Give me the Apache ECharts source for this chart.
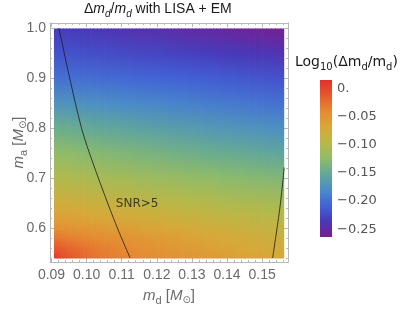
<!DOCTYPE html>
<html><head><meta charset="utf-8">
<script src="https://cdn.jsdelivr.net/npm/echarts@6/dist/echarts.min.js"></script>
<style>html,body{margin:0;padding:0;background:#fff}#c{width:407px;height:312px}</style>
</head><body><div id="c"></div>
<script>
// ---- data ----
const xNodes = [0.0907, 0.095, 0.10, 0.105, 0.11, 0.115, 0.12, 0.125, 0.13, 0.135, 0.14, 0.145, 0.15, 0.1563];
const yNodes = [0.54, 0.56, 0.58, 0.60, 0.625, 0.65, 0.70, 0.75, 0.80, 0.85, 0.90, 0.95, 1.00];
const row054 = [0.010, -0.008, -0.022, -0.030, -0.036, -0.040, -0.044, -0.048, -0.052, -0.056, -0.059, -0.062, -0.066, -0.070];
const row056 = [-0.010, -0.018, -0.027, -0.034, -0.039, -0.044, -0.048, -0.052, -0.056, -0.060, -0.063, -0.067, -0.071, -0.075];
const row058 = [-0.028, -0.032, -0.038, -0.043, -0.047, -0.051, -0.055, -0.059, -0.063, -0.067, -0.070, -0.074, -0.077, -0.081];
const row060 = [-0.046, -0.048, -0.052, -0.055, -0.058, -0.062, -0.065, -0.069, -0.072, -0.075, -0.079, -0.082, -0.085, -0.088];
const row0625 = [-0.062, -0.064, -0.067, -0.070, -0.073, -0.076, -0.079, -0.082, -0.085, -0.088, -0.091, -0.093, -0.096, -0.098];
const row065 = [-0.075, -0.077, -0.080, -0.083, -0.086, -0.089, -0.091, -0.094, -0.097, -0.099, -0.102, -0.104, -0.106, -0.108];
const row070 = [-0.100, -0.102, -0.105, -0.108, -0.110, -0.113, -0.116, -0.118, -0.121, -0.123, -0.126, -0.128, -0.130, -0.132];
const row075 = [-0.123, -0.125, -0.128, -0.131, -0.133, -0.136, -0.138, -0.141, -0.143, -0.146, -0.148, -0.150, -0.152, -0.155];
const row080 = [-0.145, -0.147, -0.150, -0.153, -0.155, -0.158, -0.160, -0.163, -0.165, -0.168, -0.170, -0.172, -0.175, -0.177];
const row085 = [-0.172, -0.174, -0.176, -0.178, -0.180, -0.182, -0.184, -0.186, -0.188, -0.190, -0.192, -0.194, -0.196, -0.198];
const row090 = [-0.198, -0.199, -0.200, -0.202, -0.203, -0.205, -0.206, -0.208, -0.210, -0.211, -0.213, -0.215, -0.217, -0.219];
const row095 = [-0.218, -0.219, -0.221, -0.222, -0.224, -0.226, -0.227, -0.229, -0.231, -0.233, -0.235, -0.237, -0.238, -0.240];
const row100 = [-0.233, -0.235, -0.237, -0.239, -0.241, -0.243, -0.245, -0.247, -0.250, -0.252, -0.254, -0.257, -0.259, -0.262];
const field = [row054, row056, row058, row060, row0625, row065, row070, row075, row080, row085, row090, row095, row100];

const contourLeftX = [0.0921, 0.0953, 0.0987, 0.1018, 0.1061, 0.1090, 0.1124];
const contourLeftY = [1.001, 0.897, 0.797, 0.731, 0.649, 0.597, 0.541];
const contourRightX = [0.1563, 0.1551, 0.1530];
const contourRightY = [0.722, 0.643, 0.541];

const xTicks = [0.09, 0.10, 0.11, 0.12, 0.13, 0.14, 0.15];
const yTicks = [0.6, 0.7, 0.8, 0.9, 1.0];
const legendTicks = [0, -0.05, -0.10, -0.15, -0.20, -0.25];
const colorMin = -0.264, colorMax = 0.016;
const rainbow = ['#7a1e8e', '#4838b8', '#4262d6', '#4a8cc8', '#62a898', '#90bc68', '#b8b848', '#d8a838', '#e68a32', '#e65a2c', '#e0302a'];

// ---- layout ----
const X0 = 0.08957, X1 = 0.15738, Y0 = 0.533, Y1 = 1.011;
const xMinor = [], yMinor = [];
for (let k = 45; k <= 78; k++) { const v = +(k * 0.002).toFixed(3); if (Math.abs(v * 100 - Math.round(v * 100)) > 1e-6) xMinor.push(v); }
for (let k = 27; k <= 50; k++) { const v = +(k * 0.02).toFixed(2); if (Math.abs(v * 10 - Math.round(v * 10)) > 1e-6) yMinor.push(v); }

function colorOf(v) {
  let t = (v - colorMin) / (colorMax - colorMin);
  t = Math.max(0, Math.min(1, t));
  return echarts.color.lerp(t, rainbow);
}
const gray = '#6a6a6a', frame = '#b8b8b8';
const subRich = {
  n: { fontSize: 15, lineHeight: 17, verticalAlign: 'top', color: gray, fontFamily: 'Liberation Sans' },
  i: { fontSize: 15, lineHeight: 17, verticalAlign: 'top', fontStyle: 'italic', color: gray, fontFamily: 'Liberation Sans' },
  s: { fontSize: 11, lineHeight: 11, padding: [7, 0, 0, 0], verticalAlign: 'top', color: gray, fontFamily: 'Liberation Sans' },
  o: { fontSize: 10, lineHeight: 11, padding: [7, 0, 0, 0], verticalAlign: 'top', color: gray, fontFamily: 'DejaVu Sans' }
};
function mkX(idx, pos, vals, len, line, label) {
  return {
    type: 'value', gridIndex: 0, position: pos, min: X0, max: X1,
    axisLine: { show: line, onZero: false, lineStyle: { color: frame, width: 1 } },
    axisTick: { show: true, inside: true, length: len, customValues: vals, lineStyle: { color: frame } },
    axisLabel: label ? { show: true, customValues: xTicks, formatter: v => v.toFixed(2), color: gray, fontSize: 14, fontFamily: 'Liberation Sans', margin: 6 } : { show: false },
    splitLine: { show: false }
  };
}
function mkY(idx, pos, vals, len, line, label) {
  return {
    type: 'value', gridIndex: 0, position: pos, min: Y0, max: Y1,
    axisLine: { show: line, onZero: false, lineStyle: { color: frame, width: 1 } },
    axisTick: { show: true, inside: true, length: len, customValues: vals, lineStyle: { color: frame } },
    axisLabel: label ? { show: true, customValues: yTicks, formatter: v => v.toFixed(1), color: gray, fontSize: 14, fontFamily: 'Liberation Sans', margin: 4 } : { show: false },
    splitLine: { show: false }
  };
}
const xa0 = mkX(0, 'bottom', xTicks, 4, true, true);
xa0.name = '{i|m}{s|d}{n| [}{i|M}{o|⊙}{n|]}';
xa0.nameLocation = 'middle'; xa0.nameGap = 26; xa0.nameMoveOverlap = false;
xa0.nameTextStyle = { rich: subRich };
const ya0 = mkY(0, 'left', yTicks, 4, true, true);
ya0.name = '{i|m}{s|a}{n| [}{i|M}{o|⊙}{n|]}';
ya0.nameLocation = 'middle'; ya0.nameGap = 22; ya0.nameMoveOverlap = false;
ya0.nameTextStyle = { rich: subRich };

const SUB = 5; // shading sub-strips between columns (render-time shading only)
const chart = echarts.init(document.getElementById('c'), null, { renderer: 'canvas' });
chart.setOption({
  animation: false,
  grid: [
    { left: 50, top: 23, width: 238, height: 239, outerBoundsMode: 'none', containLabel: false },
    { left: 320, top: 80, width: 12, height: 157, outerBoundsMode: 'none', containLabel: false }
  ],
  xAxis: [
    xa0,
    mkX(1, 'bottom', xMinor, 2, false, false),
    mkX(2, 'top', xTicks, 4, true, false),
    mkX(3, 'top', xMinor, 2, false, false),
    { type: 'value', gridIndex: 1, min: 0, max: 1, show: false }
  ],
  yAxis: [
    ya0,
    mkY(1, 'left', yMinor, 2, false, false),
    mkY(2, 'right', yTicks, 4, true, false),
    mkY(3, 'right', yMinor, 2, false, false),
    {
      type: 'value', gridIndex: 1, position: 'right', min: colorMin, max: colorMax,
      axisLine: { show: false }, axisTick: { show: false }, splitLine: { show: false },
      axisLabel: { customValues: legendTicks, margin: 5, color: '#555', fontSize: 13, fontFamily: 'DejaVu Sans',
        formatter: v => v === 0 ? '0.' : '\u2212' + Math.abs(v).toFixed(2) }
    }
  ],
  series: [
    {
      type: 'custom', xAxisIndex: 0, yAxisIndex: 0, silent: true,
      data: xNodes.slice(0, -1).map((x, i) => [x, yNodes[0], i]),
      renderItem(params, api) {
        const i = api.value(2);
        const yTop = yNodes[yNodes.length - 1], yBot = yNodes[0];
        const children = [];
        for (let s = 0; s < SUB; s++) {
          const w0 = s / SUB, w1 = (s + 1) / SUB, wm = (s + 0.5) / SUB;
          const xl = xNodes[i] + (xNodes[i + 1] - xNodes[i]) * w0;
          const xr = xNodes[i] + (xNodes[i + 1] - xNodes[i]) * w1;
          const p0 = api.coord([xl, yTop]);
          const p1 = api.coord([xr, yBot]);
          const stops = [];
          for (let j = yNodes.length - 1; j >= 0; j--) {
            const v = field[j][i] * (1 - wm) + field[j][i + 1] * wm;
            stops.push({ offset: (yTop - yNodes[j]) / (yTop - yBot), color: colorOf(v) });
          }
          const last = (i === xNodes.length - 2 && s === SUB - 1);
          children.push({
            type: 'rect',
            shape: { x: p0[0], y: p0[1], width: p1[0] - p0[0] + (last ? 0 : 0.8), height: p1[1] - p0[1] },
            style: { fill: new echarts.graphic.LinearGradient(0, 0, 0, 1, stops) }
          });
        }
        return { type: 'group', children };
      }
    },
    {
      type: 'line', xAxisIndex: 0, yAxisIndex: 0, smooth: 0.3, symbol: 'none', silent: true,
      data: contourLeftX.map((x, i) => [x, contourLeftY[i]]),
      lineStyle: { color: '#1a1a1a', width: 0.8 }
    },
    {
      type: 'line', xAxisIndex: 0, yAxisIndex: 0, smooth: 0.3, symbol: 'none', silent: true,
      data: contourRightX.map((x, i) => [x, contourRightY[i]]),
      lineStyle: { color: '#1a1a1a', width: 0.8 }
    },
    {
      type: 'scatter', xAxisIndex: 0, yAxisIndex: 0, symbolSize: 0, silent: true,
      data: [[0.1144, 0.649]],
      label: { show: true, position: 'inside', formatter: 'SNR>5', color: '#1a1a1a', fontSize: 12, fontFamily: 'DejaVu Sans' }
    },
    {
      type: 'custom', xAxisIndex: 4, yAxisIndex: 4, silent: true,
      data: [[0, colorMin]],
      renderItem(params, api) {
        const p0 = api.coord([0, colorMax]);
        const p1 = api.coord([1, colorMin]);
        const stops = rainbow.slice().reverse().map((c, k) => ({ offset: k / (rainbow.length - 1), color: c }));
        return {
          type: 'rect',
          shape: { x: p0[0], y: p0[1], width: p1[0] - p0[0], height: p1[1] - p0[1] },
          style: { fill: new echarts.graphic.LinearGradient(0, 0, 0, 1, stops) }
        };
      }
    }
  ],
  graphic: [
    {
      type: 'text', left: 84, top: 2,
      style: {
        text: '{n|\u0394}{i|m}{s|d}{n|/}{i|m}{s|d}{n| with LISA + EM}',
        rich: {
          n: { fontSize: 14, lineHeight: 16, verticalAlign: 'top', fill: '#1a1a1a', fontFamily: 'Liberation Sans' },
          i: { fontSize: 14, lineHeight: 16, verticalAlign: 'top', fontStyle: 'italic', fill: '#1a1a1a', fontFamily: 'Liberation Sans' },
          s: { fontSize: 10, lineHeight: 10, padding: [7, 0, 0, 0], verticalAlign: 'top', fill: '#1a1a1a', fontStyle: 'italic', fontFamily: 'Liberation Sans' }
        }
      }
    },
    {
      type: 'text', left: 295, top: 55,
      style: {
        text: '{n|Log}{s|10}{n|(\u0394m}{s|d}{n|/m}{s|d}{n|)}',
        rich: {
          n: { fontSize: 14, lineHeight: 16, verticalAlign: 'top', fill: '#1a1a1a', fontFamily: 'DejaVu Sans' },
          s: { fontSize: 10, lineHeight: 10, padding: [7, 0, 0, 0], verticalAlign: 'top', fill: '#1a1a1a', fontFamily: 'DejaVu Sans' }
        }
      }
    }
  ]
});
</script>
</body></html>
